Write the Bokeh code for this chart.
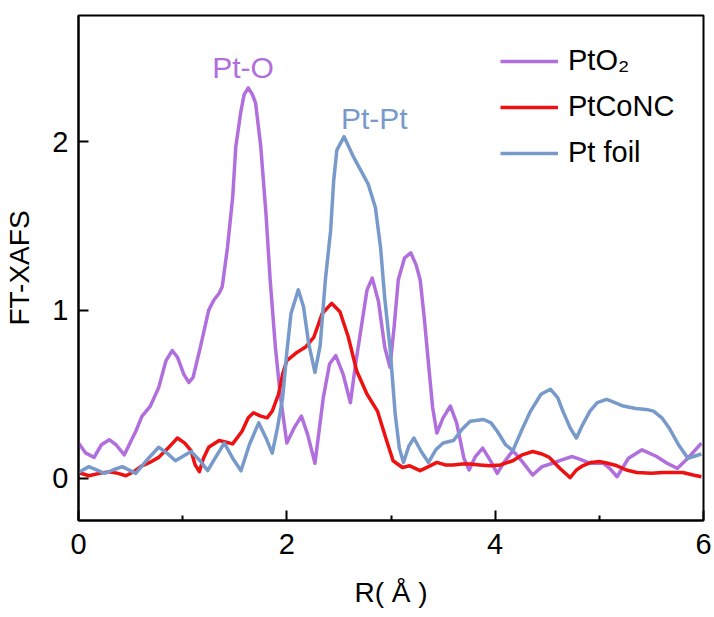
from bokeh.plotting import figure
from bokeh.models import Range1d, FixedTicker, Legend, LegendItem, Label
from bokeh.embed import file_html
from bokeh.resources import INLINE

# ---- data ----
pto2_r = [0.00, 0.07, 0.15, 0.22, 0.295, 0.36, 0.44, 0.55, 0.61, 0.69, 0.77, 0.84, 0.90, 0.95, 1.01,
          1.06, 1.10, 1.17, 1.25, 1.30, 1.35, 1.38, 1.43, 1.48, 1.51, 1.556, 1.59, 1.63, 1.67, 1.70,
          1.75, 1.80, 1.84, 1.89, 1.94, 2.00, 2.07, 2.14, 2.20, 2.27, 2.35, 2.41, 2.47, 2.54, 2.61,
          2.66, 2.71, 2.77, 2.82, 2.88, 2.94, 2.99, 3.03, 3.07, 3.13, 3.19, 3.24, 3.28, 3.32, 3.36,
          3.40, 3.44, 3.50, 3.57, 3.63, 3.70, 3.75, 3.81, 3.88, 3.95, 4.02, 4.09, 4.17, 4.26, 4.36,
          4.45, 4.55, 4.64, 4.74, 4.83, 4.91, 5.04, 5.10, 5.17, 5.28, 5.41, 5.55, 5.65, 5.75, 5.85,
          5.98]
pto2_ft = [0.21, 0.15, 0.125, 0.20, 0.23, 0.20, 0.14, 0.28, 0.37, 0.43, 0.54, 0.70, 0.76, 0.72, 0.62,
           0.57, 0.60, 0.78, 1.00, 1.06, 1.10, 1.14, 1.37, 1.67, 1.97, 2.17, 2.28, 2.32, 2.28, 2.23,
           1.97, 1.57, 1.18, 0.78, 0.48, 0.21, 0.30, 0.37, 0.26, 0.09, 0.48, 0.68, 0.73, 0.62, 0.45,
           0.68, 0.88, 1.12, 1.19, 1.05, 0.78, 0.66, 0.90, 1.18, 1.31, 1.34, 1.27, 1.18, 0.95, 0.68,
           0.42, 0.27, 0.36, 0.43, 0.33, 0.12, 0.05, 0.13, 0.18, 0.11, 0.03, 0.10, 0.165, 0.10, 0.02,
           0.07, 0.09, 0.11, 0.13, 0.11, 0.09, 0.09, 0.06, 0.01, 0.12, 0.17, 0.13, 0.09, 0.06, 0.12,
           0.21]

ptconc_r = [0.00, 0.10, 0.20, 0.295, 0.38, 0.455, 0.53, 0.61, 0.70, 0.77, 0.86, 0.95, 1.02, 1.08, 1.12,
            1.16, 1.20, 1.25, 1.35, 1.42, 1.48, 1.57, 1.63, 1.68, 1.75, 1.81, 1.86, 1.92, 1.96, 2.00,
            2.10, 2.18, 2.26, 2.34, 2.43, 2.51, 2.59, 2.67, 2.77, 2.87, 2.95, 3.02, 3.11, 3.18, 3.28,
            3.36, 3.44, 3.52, 3.60, 3.68, 3.76, 3.85, 3.95, 4.05, 4.17, 4.26, 4.36, 4.45, 4.52, 4.62,
            4.72, 4.78, 4.84, 4.92, 5.00, 5.08, 5.17, 5.26, 5.36, 5.50, 5.61, 5.72, 5.80, 5.90, 5.98]
ptconc_ft = [0.035, 0.016, 0.03, 0.04, 0.03, 0.016, 0.04, 0.075, 0.10, 0.125, 0.18, 0.24, 0.21, 0.165, 0.08,
             0.04, 0.12, 0.185, 0.225, 0.215, 0.205, 0.28, 0.36, 0.39, 0.37, 0.36, 0.40, 0.50, 0.62, 0.70,
             0.75, 0.78, 0.84, 0.98, 1.04, 0.99, 0.84, 0.64, 0.50, 0.40, 0.24, 0.105, 0.065, 0.075, 0.046,
             0.07, 0.095, 0.08, 0.08, 0.085, 0.085, 0.08, 0.075, 0.08, 0.105, 0.14, 0.16, 0.145, 0.125, 0.06,
             0.005, 0.05, 0.075, 0.095, 0.10, 0.09, 0.075, 0.05, 0.035, 0.03, 0.035, 0.035, 0.035, 0.02, 0.01]

ptfoil_r = [0.00, 0.10, 0.25, 0.33, 0.42, 0.55, 0.65, 0.77, 0.85, 0.93, 1.00, 1.08, 1.16, 1.24, 1.32,
            1.40, 1.48, 1.56, 1.64, 1.73, 1.80, 1.86, 1.91, 1.96, 2.00, 2.04, 2.11, 2.16, 2.21, 2.27,
            2.32, 2.37, 2.42, 2.45, 2.48, 2.55, 2.64, 2.71, 2.78, 2.85, 2.90, 2.94, 2.99, 3.04, 3.08,
            3.12, 3.17, 3.22, 3.29, 3.36, 3.43, 3.50, 3.60, 3.68, 3.76, 3.89, 3.96, 4.02, 4.10, 4.17,
            4.25, 4.34, 4.44, 4.53, 4.60, 4.65, 4.72, 4.78, 4.84, 4.91, 4.98, 5.07, 5.15, 5.23, 5.35,
            5.45, 5.52, 5.60, 5.67, 5.76, 5.85, 5.98]
ptfoil_ft = [0.035, 0.07, 0.03, 0.05, 0.07, 0.03, 0.105, 0.185, 0.15, 0.105, 0.13, 0.16, 0.11, 0.046, 0.13,
             0.21, 0.12, 0.046, 0.20, 0.33, 0.24, 0.15, 0.30, 0.48, 0.75, 0.98, 1.12, 1.02, 0.80, 0.63,
             0.79, 1.18, 1.47, 1.77, 1.95, 2.03, 1.91, 1.83, 1.75, 1.61, 1.37, 1.07, 0.78, 0.385, 0.18,
             0.095, 0.19, 0.24, 0.16, 0.095, 0.17, 0.21, 0.225, 0.29, 0.34, 0.35, 0.33, 0.28, 0.20, 0.165,
             0.28, 0.40, 0.50, 0.53, 0.48, 0.40, 0.30, 0.24, 0.32, 0.40, 0.45, 0.47, 0.45, 0.43, 0.415,
             0.41, 0.40, 0.36, 0.30, 0.20, 0.12, 0.145]

series_names = ["PtO\u2082", "PtCoNC", "Pt foil"]
x_ticks = [0, 2, 4, 6]
x_minor = [1, 3, 5]
y_ticks = [0, 1, 2]
peak_labels = ["Pt-O", "Pt-Pt"]
peak_label_pos = [(1.58, 2.44), (2.84, 2.14)]

PURPLE = "#B06FDD"
RED = "#EE1111"
BLUE = "#779ACB"
FONT = "Liberation Sans"

p = figure(frame_width=625, frame_height=505, output_backend="svg", toolbar_location=None,
           x_range=Range1d(0, 6), y_range=Range1d(-0.25, 2.75),
           min_border_left=78, min_border_right=11, min_border_top=15, min_border_bottom=97,
           background_fill_color="white", border_fill_color="white")
p.grid.visible = False
p.outline_line_color = "black"
p.outline_line_width = 2
p.outline_line_alpha = 1

r1 = p.line(pto2_r, pto2_ft, line_color=PURPLE, line_width=3.5, line_join="round")
r2 = p.line(ptconc_r, ptconc_ft, line_color=RED, line_width=3.5, line_join="round")
r3 = p.line(ptfoil_r, ptfoil_ft, line_color=BLUE, line_width=3.5, line_join="round")

for ax in (p.xaxis[0], p.yaxis[0]):
    ax.axis_line_width = 2
    ax.axis_line_color = "black"
    ax.major_tick_line_width = 2
    ax.minor_tick_line_width = 2
    ax.major_tick_in = 10
    ax.major_tick_out = 0
    ax.minor_tick_in = 5
    ax.minor_tick_out = 0
    ax.major_label_text_font = FONT
    ax.major_label_text_font_size = "29px"
    ax.major_label_text_color = "black"
    ax.axis_label_text_font = FONT
    ax.axis_label_text_font_size = "28px"
    ax.axis_label_text_font_style = "normal"
    ax.axis_label_text_color = "black"

p.xaxis[0].ticker = FixedTicker(ticks=x_ticks, minor_ticks=x_minor)
p.yaxis[0].ticker = FixedTicker(ticks=y_ticks, minor_ticks=[])
p.xaxis[0].major_label_standoff = 13
p.yaxis[0].major_label_standoff = 10
p.xaxis[0].axis_label = "R( \u00c5 )"
p.yaxis[0].axis_label = "FT-XAFS"
p.xaxis[0].axis_label_standoff = 20
p.yaxis[0].axis_label_standoff = 14

colors_lbl = [PURPLE, BLUE]
for txt, (lx, ly), c in zip(peak_labels, peak_label_pos, colors_lbl):
    p.add_layout(Label(x=lx, y=ly, text=txt, text_color=c, text_font=FONT,
                       text_font_size="30px", text_align="center", text_baseline="middle"))

legend = Legend(items=[LegendItem(label=series_names[0], renderers=[r1]),
                       LegendItem(label=series_names[1], renderers=[r2]),
                       LegendItem(label=series_names[2], renderers=[r3])],
                location=(422, 351), padding=0, margin=0, spacing=13,
                glyph_width=58, glyph_height=30, label_height=30, label_standoff=10,
                label_text_font=FONT, label_text_font_size="29px", label_text_color="black",
                border_line_color=None, background_fill_alpha=0)
p.add_layout(legend)

open("out.html", "w").write(file_html(p, INLINE))
